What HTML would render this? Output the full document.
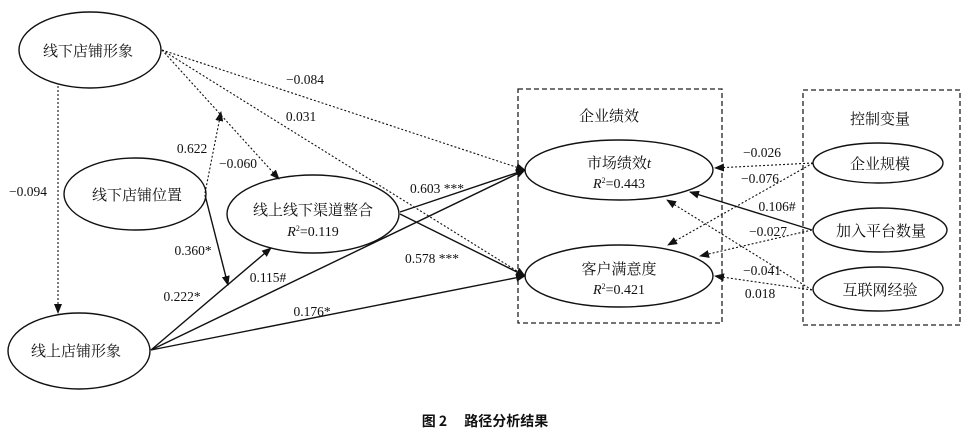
<!DOCTYPE html>
<html><head><meta charset="utf-8"><style>
html,body{margin:0;padding:0;background:#fff;width:969px;height:437px;overflow:hidden}
svg text{font-family:"Liberation Serif","Noto Serif CJK SC",serif;fill:#111}
</style></head><body>
<svg width="969" height="437" viewBox="0 0 969 437" xmlns="http://www.w3.org/2000/svg">
<defs>
<marker id="a" markerWidth="10" markerHeight="8" refX="9" refY="4" orient="auto" markerUnits="userSpaceOnUse"><path d="M0,0 L10,4 L0,8 z" fill="#111"/></marker>
</defs>
<g fill="none" stroke="#111" stroke-width="1.4">
<ellipse cx="90" cy="50" rx="71" ry="38"/>
<ellipse cx="135" cy="194" rx="71" ry="36"/>
<ellipse cx="313" cy="214" rx="86" ry="39"/>
<ellipse cx="79" cy="351" rx="71" ry="38"/>
<ellipse cx="619" cy="170" rx="94" ry="30"/>
<ellipse cx="619" cy="276" rx="94" ry="31"/>
<ellipse cx="878" cy="163" rx="65" ry="20"/>
<ellipse cx="880" cy="230" rx="67" ry="22"/>
<ellipse cx="878" cy="289" rx="65" ry="22"/>
</g>
<g fill="none" stroke="#222" stroke-width="1.3" stroke-dasharray="5,3">
<rect x="518" y="89" width="204" height="234"/>
<rect x="803" y="90" width="157" height="235"/>
</g>
<g fill="none" stroke="#111" stroke-width="1.1" stroke-dasharray="2,2">
<line x1="162" y1="50" x2="525" y2="170" marker-end="url(#a)"/>
<line x1="162" y1="50" x2="525" y2="276" marker-end="url(#a)"/>
<line x1="162" y1="50" x2="279" y2="179" marker-end="url(#a)"/>
<line x1="205" y1="193" x2="221" y2="112" marker-end="url(#a)"/>
<line x1="58" y1="86" x2="58" y2="313" marker-end="url(#a)"/>
<line x1="813" y1="163" x2="715" y2="168" marker-end="url(#a)"/>
<line x1="813" y1="163" x2="668" y2="245" marker-end="url(#a)"/>
<line x1="812" y1="230" x2="700" y2="256" marker-end="url(#a)"/>
<line x1="812" y1="290" x2="667" y2="200" marker-end="url(#a)"/>
<line x1="812" y1="290" x2="715" y2="276" marker-end="url(#a)"/>
</g>
<g fill="none" stroke="#111" stroke-width="1.4">
<line x1="205" y1="195" x2="228" y2="285" marker-end="url(#a)"/>
<line x1="151" y1="350" x2="271" y2="248" marker-end="url(#a)"/>
<line x1="151" y1="350" x2="525" y2="170" marker-end="url(#a)"/>
<line x1="151" y1="350" x2="525" y2="276" marker-end="url(#a)"/>
<line x1="400" y1="212" x2="525" y2="170" marker-end="url(#a)"/>
<line x1="400" y1="214" x2="525" y2="276" marker-end="url(#a)"/>
<line x1="812" y1="230" x2="690" y2="192" marker-end="url(#a)"/>
</g>
<g font-size="15" text-anchor="middle">
<text x="88" y="56">线下店铺形象</text>
<text x="137" y="200">线下店铺位置</text>
<text x="313" y="215">线上线下渠道整合</text>
<text x="313" y="236" font-size="14"><tspan font-style="italic">R</tspan><tspan font-size="8" dy="-5">2</tspan><tspan dy="5">=0.119</tspan></text>
<text x="76" y="356">线上店铺形象</text>
<text x="619" y="168">市场绩效<tspan font-style="italic">t</tspan></text>
<text x="619" y="188" font-size="14"><tspan font-style="italic">R</tspan><tspan font-size="8" dy="-5">2</tspan><tspan dy="5">=0.443</tspan></text>
<text x="619" y="274">客户满意度</text>
<text x="619" y="294" font-size="14"><tspan font-style="italic">R</tspan><tspan font-size="8" dy="-5">2</tspan><tspan dy="5">=0.421</tspan></text>
<text x="880" y="169">企业规模</text>
<text x="881" y="236">加入平台数量</text>
<text x="880" y="295">互联网经验</text>
<text x="609" y="121">企业绩效</text>
<text x="880" y="124">控制变量</text>
</g>
<g font-size="13.5" text-anchor="middle">
<text x="305" y="84">−0.084</text>
<text x="301" y="121">0.031</text>
<text x="238" y="168">−0.060</text>
<text x="192" y="153">0.622</text>
<text x="28" y="196">−0.094</text>
<text x="193" y="255">0.360*</text>
<text x="182" y="301">0.222*</text>
<text x="268" y="282">0.115#</text>
<text x="312" y="316">0.176*</text>
<text x="437" y="193">0.603 ***</text>
<text x="432" y="263">0.578 ***</text>
<text x="762" y="157">−0.026</text>
<text x="760" y="183">−0.076</text>
<text x="777" y="211">0.106#</text>
<text x="768" y="236">−0.027</text>
<text x="762" y="275">−0.041</text>
<text x="760" y="298">0.018</text>
</g>
<text x="485" y="426" font-size="14" font-weight="bold" text-anchor="middle" style="font-family:'Noto Sans CJK SC',sans-serif">图 2　 路径分析结果</text>
</svg>
</body></html>
